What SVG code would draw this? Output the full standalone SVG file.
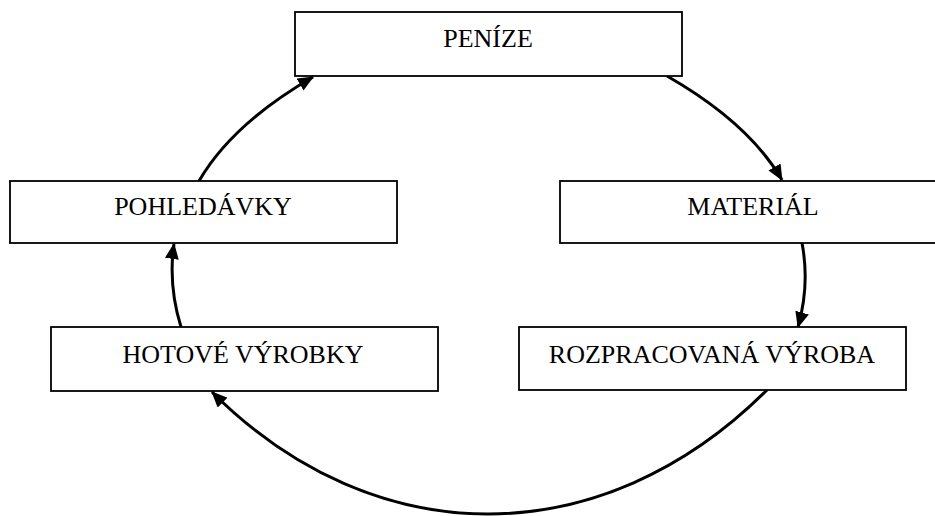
<svg xmlns="http://www.w3.org/2000/svg" width="935" height="516" viewBox="0 0 935 516">
<style>
.box{fill:#fff;stroke:#000;stroke-width:1.8}
.lbl{font-family:"Liberation Serif","Times New Roman",serif;font-size:26px;fill:#000;text-anchor:middle}
.arc{fill:none;stroke:#000;stroke-width:3;marker-end:url(#ah)}
</style>
<defs>
<marker id="ah" markerUnits="userSpaceOnUse" markerWidth="16" markerHeight="14" refX="15" refY="7" orient="auto">
<path d="M0,0 L16,7 L0,14 z" fill="#000"/>
</marker>
</defs>
<rect width="935" height="516" fill="#fff"/>
<g id="connectors">
<path class="arc" d="M199,181 Q232,124 313,77"/>
<path class="arc" d="M667,76 Q749,123 782,180"/>
<path class="arc" d="M802,243 Q810,285 798,327"/>
<path class="arc" d="M181,327 Q168,285 174,244"/>
<path class="arc" d="M767,390 C602,555 375,555 212,392"/>
</g>
<g id="peníze"><rect class="box" x="295" y="12" width="387" height="64"/><text class="lbl" x="488" y="47">PENÍZE</text></g>
<g id="pohledavky"><rect class="box" x="10" y="181" width="387" height="62"/><text class="lbl" x="203" y="215">POHLEDÁVKY</text></g>
<g id="material"><rect class="box" x="560" y="181" width="386" height="62"/><text class="lbl" x="753" y="215">MATERIÁL</text></g>
<g id="hotove"><rect class="box" x="51" y="327" width="387" height="64"/><text class="lbl" x="243" y="363">HOTOVÉ VÝROBKY</text></g>
<g id="rozpracovana"><rect class="box" x="519" y="327" width="387" height="63"/><text class="lbl" x="712" y="363">ROZPRACOVANÁ VÝROBA</text></g>
</svg>
